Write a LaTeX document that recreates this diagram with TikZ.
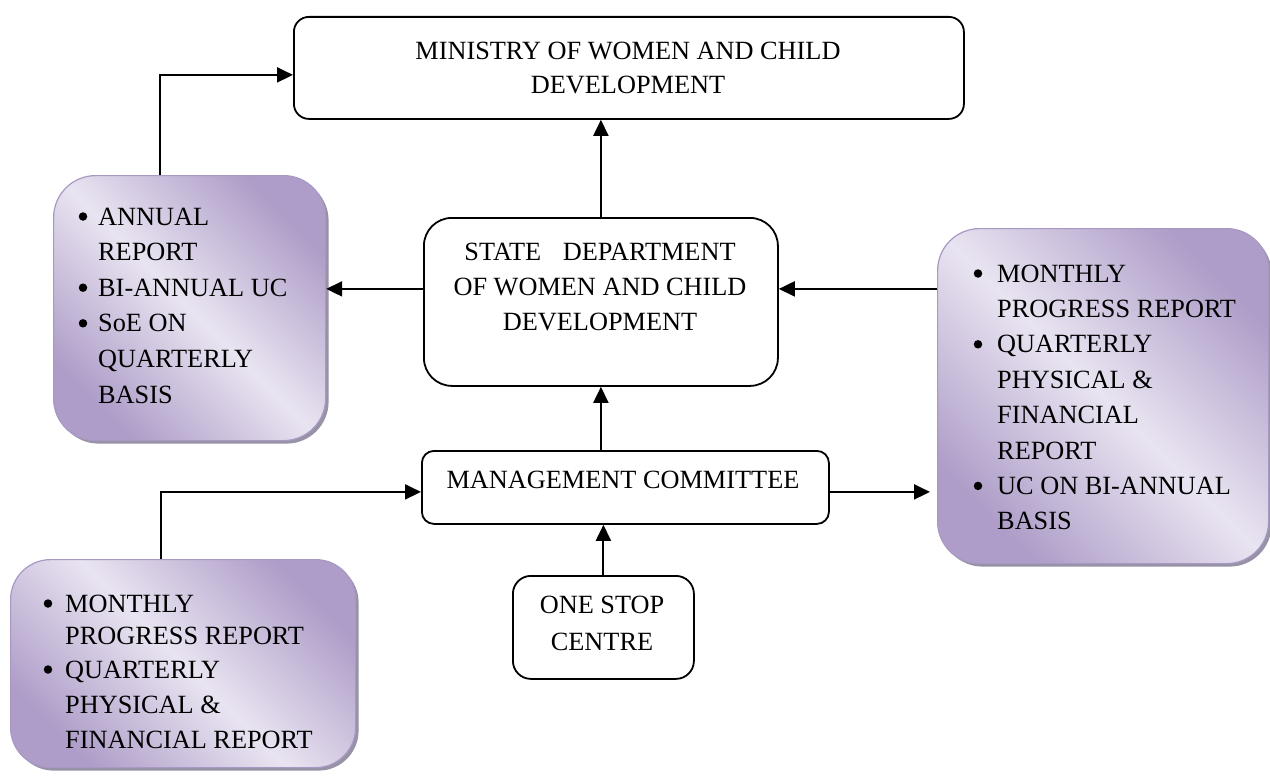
\documentclass[tikz,border=0pt]{standalone}
\usepackage{fontspec}
\setmainfont{Liberation Serif}
\usetikzlibrary{arrows.meta,shadows,calc}
\definecolor{pdark}{HTML}{AE9DC8}
\definecolor{plight}{HTML}{E9E4F1}
\definecolor{pborder}{HTML}{A899C4}
\definecolor{pshadow}{HTML}{9892A6}
\begin{document}
\begin{tikzpicture}[x=1pt,y=-1pt,
  every node/.style={font=\fontsize{26.3}{35.4}\selectfont},
  bbox/.style={draw, line width=1.8pt, rectangle, inner sep=0pt, anchor=north west},
  pbox/.style={rectangle, rounded corners=42pt, inner sep=0pt, anchor=north west,
    draw=pborder, line width=1.2pt,
    top color=pdark, bottom color=pdark, middle color=plight, shading angle=-45,
    drop shadow={shadow xshift=3pt, shadow yshift=-3pt, fill=pshadow, opacity=1}},
  ltxt/.style={inner sep=0pt, anchor=base west},
  ctxt/.style={inner sep=0pt, anchor=base},
  bul/.style={circle, fill=black, inner sep=0pt, minimum size=8.5pt, yshift=8.5pt},
  arr/.style={line width=2pt, -{Triangle[length=16pt,width=15pt]}},
  ln/.style={line width=2pt}]
\useasboundingbox (0,0) rectangle (1270,776);
\fill[white] (0,0) rectangle (1270,776);

% black boxes
\node[bbox, rounded corners=15pt, minimum width=670pt, minimum height=102pt] (min) at (293,16) {};
\node[bbox, rounded corners=28pt, minimum width=354pt, minimum height=168pt] (state) at (423,217) {};
\node[bbox, rounded corners=12pt, minimum width=407pt, minimum height=73pt] (mgmt) at (421,450) {};
\node[bbox, rounded corners=18pt, minimum width=181pt, minimum height=103pt] (osc) at (512,575) {};

\node[ctxt] (min1) at (628,60) {MINISTRY OF WOMEN AND CHILD};
\node[ctxt] (min2) at (628,93) {DEVELOPMENT};
\node[ctxt] (st1) at (600,260) {STATE\hspace{0.82em}DEPARTMENT};
\node[ctxt] (st2) at (600,295) {OF WOMEN AND CHILD};
\node[ctxt] (st3) at (600,330) {DEVELOPMENT};
\node[ctxt] (mg1) at (623,488) {MANAGEMENT COMMITTEE};
\node[ctxt] (os1) at (602,613) {ONE STOP};
\node[ctxt] (os2) at (602,650) {CENTRE};

% purple boxes
\node[pbox, minimum width=272pt, minimum height=265pt] (lbox) at (53,175) {};
\node[pbox, minimum width=331pt, minimum height=335pt] (rbox) at (937,228) {};
\node[pbox, rounded corners=40pt, minimum width=345pt, minimum height=208pt] (blbox) at (10,559) {};

% left box text
\node[bul] (lb1) at (83,225) {};
\node[ltxt] (l1) at (98,225) {ANNUAL};
\node[ltxt] (l2) at (98,260.6) {REPORT};
\node[bul] (lb3) at (83,296.2) {};
\node[ltxt] (l3) at (98,296.2) {BI-ANNUAL UC};
\node[bul] (lb4) at (83,331.8) {};
\node[ltxt] (l4) at (98,331.8) {SoE ON};
\node[ltxt] (l5) at (98,367.4) {QUARTERLY};
\node[ltxt] (l6) at (98,403) {BASIS};

% right box text
\node[bul] (rb1) at (978,282) {};
\node[ltxt] (r1) at (997,282) {MONTHLY};
\node[ltxt] (r2) at (997,317.4) {PROGRESS REPORT};
\node[bul] (rb3) at (978,352.8) {};
\node[ltxt] (r3) at (997,352.8) {QUARTERLY};
\node[ltxt] (r4) at (997,388.2) {PHYSICAL \&};
\node[ltxt] (r5) at (997,423.6) {FINANCIAL};
\node[ltxt] (r6) at (997,459) {REPORT};
\node[bul] (rb7) at (978,494.4) {};
\node[ltxt] (r7) at (997,494.4) {UC ON BI-ANNUAL};
\node[ltxt] (r8) at (997,529.8) {BASIS};

% bottom-left box text
\node[bul] (bb1) at (48,612) {};
\node[ltxt] (b1) at (65,612) {MONTHLY};
\node[ltxt] (b2) at (65,644) {PROGRESS REPORT};
\node[bul] (bb3) at (48,678) {};
\node[ltxt] (b3) at (65,678) {QUARTERLY};
\node[ltxt] (b4) at (65,713) {PHYSICAL \&};
\node[ltxt] (b5) at (65,748) {FINANCIAL REPORT};

% connectors
\coordinate (sr) at ([yshift=13pt]state.east);
\coordinate (sl) at ([yshift=13pt]state.west);
\coordinate (mr) at ([yshift=-4.5pt]mgmt.east);
\coordinate (ml) at ([yshift=-4.5pt]mgmt.west);
\coordinate (minl) at ([yshift=-7pt]min.west);

\draw[arr] (state.north) -- (state.north |- min.south);
\draw[arr] (state.south |- mgmt.north) -- (state.south);
\draw[arr] (osc.north) -- (osc.north |- mgmt.south);
\draw[arr] (sl) -- (lbox.east |- sl);
\draw[arr] (rbox.west |- sr) -- (sr);
\draw[arr] (mr) -- ([xshift=-7pt]rbox.west |- mr);
\draw[arr] ([xshift=-30pt]lbox.north) |- (minl);
\draw[arr] ([xshift=-22.5pt]blbox.north) |- (ml);
\end{tikzpicture}
\end{document}
